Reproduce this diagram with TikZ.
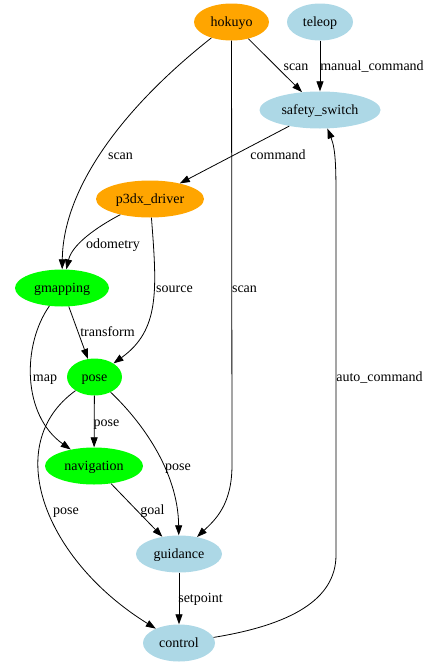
\documentclass[tikz,border=0pt]{standalone}
\usepackage{fontspec}
\setmainfont{Liberation Serif}
\usetikzlibrary{shapes.geometric,arrows.meta}
\definecolor{gvorange}{HTML}{FFA500}
\definecolor{gvblue}{HTML}{ADD8E6}
\definecolor{gvgreen}{HTML}{00FF00}
\begin{document}
\begin{tikzpicture}[x=1pt,y=-1pt,
  nd/.style={ellipse,draw=none,inner sep=0pt,minimum height=37pt,text height=9pt,text depth=0pt,font=\fontsize{14}{16}\selectfont},
  lbl/.style={inner sep=0pt,text height=6.5pt,text depth=0pt,font=\fontsize{14}{16}\selectfont},
  edge/.style={draw=black,line width=0.8pt,-{Triangle[length=10pt,width=7pt]}}]
\useasboundingbox (0,0) rectangle (427,664);
% nodes
\node[nd,fill=gvorange,minimum width=75pt] (hokuyo) at (231.5,22) {hokuyo};
\node[nd,fill=gvblue,minimum width=66pt] (teleop) at (320,22) {teleop};
\node[nd,fill=gvblue,minimum width=121pt] (safety) at (320,110) {safety\_switch};
\node[nd,fill=gvorange,minimum width=108pt] (p3dx) at (150,199) {p3dx\_driver};
\node[nd,fill=gvgreen,minimum width=94pt] (gmapping) at (62,288) {gmapping};
\node[nd,fill=gvgreen,minimum width=55pt] (pose) at (94.5,377) {pose};
\node[nd,fill=gvgreen,minimum width=98pt] (navigation) at (94,466) {navigation};
\node[nd,fill=gvblue,minimum width=86pt] (guidance) at (179,554) {guidance};
\node[nd,fill=gvblue,minimum width=72pt] (control) at (179,643) {control};
% helper coordinates
\coordinate (s1) at (232,465);
\coordinate (a1) at (336,555);
\coordinate (a2) at (336,205);
% edges
\draw[edge] (hokuyo) -- (safety);
\draw[edge] (teleop) -- (safety);
\draw[edge] (safety) -- (p3dx);
\draw[edge] (hokuyo) .. controls (120,110) and (63,190) .. (gmapping);
\draw[edge] (hokuyo) -- (s1) .. controls (232,505) and (215,520) .. (guidance);
\draw[edge] (p3dx) .. controls (95,228) and (72,245) .. (gmapping);
\draw[edge] (p3dx) .. controls (157,290) and (160,330) .. (pose);
\draw[edge] (gmapping) -- (pose);
\draw[edge] (gmapping) .. controls (22,345) and (22,415) .. (navigation);
\draw[edge] (pose) -- (navigation);
\draw[edge] (pose) .. controls (140,420) and (178,470) .. (guidance);
\draw[edge] (pose) .. controls (0,445) and (45,560) .. (control);
\draw[edge] (navigation) -- (guidance);
\draw[edge] (guidance) -- (control);
\draw[edge] (control) .. controls (290,625) and (336,600) .. (a1) -- (a2) .. controls (336,170) and (336,150) .. (safety);
% labels
\node[lbl] (l1) at (296,67) {scan};
\node[lbl] (l2) at (372,67) {manual\_command};
\node[lbl] (l3) at (278,156) {command};
\node[lbl] (l4) at (120.5,156) {scan};
\node[lbl] (l5) at (113,245) {odometry};
\node[lbl] (l6) at (174.5,289) {source};
\node[lbl] (l7) at (244.5,289) {scan};
\node[lbl] (l8) at (107.5,333) {transform};
\node[lbl] (l9) at (45,378) {map};
\node[lbl] (l10) at (379.5,378) {auto\_command};
\node[lbl] (l11) at (106.5,423) {pose};
\node[lbl] (l12) at (178,467) {pose};
\node[lbl] (l13) at (66,511) {pose};
\node[lbl] (l14) at (152.5,511) {goal};
\node[lbl] (l15) at (200.5,599.5) {setpoint};
\end{tikzpicture}
\end{document}
